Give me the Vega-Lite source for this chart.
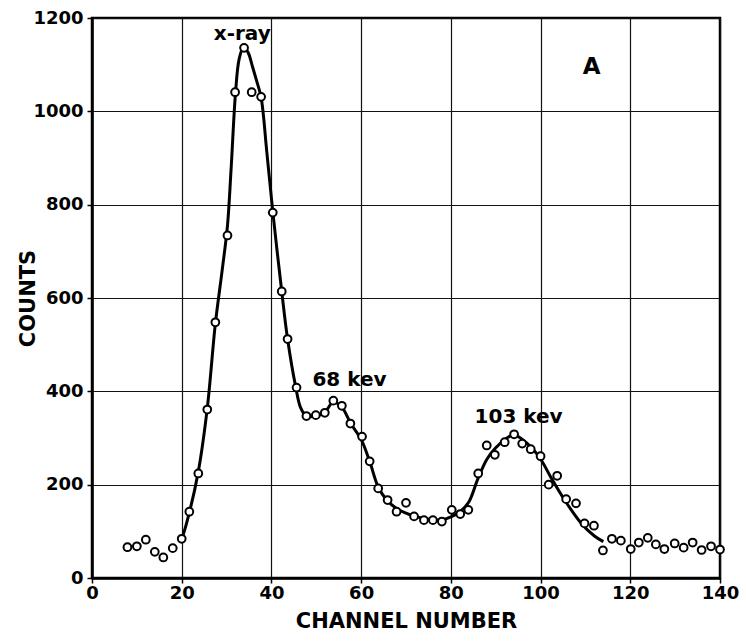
{
  "$schema": "https://vega.github.io/schema/vega-lite/v6.json",
  "width": 628,
  "height": 560,
  "autosize": "none",
  "padding": {"left": 92, "top": 18, "right": 26, "bottom": 65},
  "background": "white",
  "view": {"stroke": "black", "strokeWidth": 2.5},
  "config": {
    "font": "DejaVu Sans",
    "axis": {
      "grid": true,
      "gridColor": "#111111",
      "gridWidth": 1.2,
      "gridOpacity": 1,
      "domainColor": "black",
      "domainWidth": 2.5,
      "tickColor": "black",
      "tickWidth": 1.5,
      "tickSize": 5,
      "labelFont": "DejaVu Sans",
      "labelFontSize": 18,
      "labelFontWeight": "bold",
      "labelColor": "black",
      "titleFont": "DejaVu Sans",
      "titleFontSize": 21,
      "titleFontWeight": "bold",
      "titleColor": "black"
    }
  },
  "datasets": {
    "counts": [
      {"channel": 7.9, "counts": 66}, {"channel": 10, "counts": 68}, {"channel": 12, "counts": 82},
      {"channel": 14, "counts": 56}, {"channel": 15.9, "counts": 44}, {"channel": 18, "counts": 64},
      {"channel": 20, "counts": 84}, {"channel": 21.7, "counts": 142}, {"channel": 23.7, "counts": 224},
      {"channel": 25.7, "counts": 361}, {"channel": 27.5, "counts": 548}, {"channel": 30.2, "counts": 734},
      {"channel": 31.9, "counts": 1041}, {"channel": 33.9, "counts": 1136}, {"channel": 35.6, "counts": 1041},
      {"channel": 37.7, "counts": 1031}, {"channel": 40.3, "counts": 783}, {"channel": 42.3, "counts": 614},
      {"channel": 43.6, "counts": 512}, {"channel": 45.6, "counts": 408}, {"channel": 47.8, "counts": 347},
      {"channel": 49.9, "counts": 349}, {"channel": 51.9, "counts": 354}, {"channel": 53.8, "counts": 380},
      {"channel": 55.7, "counts": 369}, {"channel": 57.6, "counts": 331}, {"channel": 60.2, "counts": 303},
      {"channel": 61.9, "counts": 250}, {"channel": 63.8, "counts": 192}, {"channel": 65.9, "counts": 167},
      {"channel": 67.9, "counts": 142}, {"channel": 70, "counts": 161}, {"channel": 71.8, "counts": 132},
      {"channel": 74, "counts": 124}, {"channel": 76, "counts": 124}, {"channel": 78, "counts": 121},
      {"channel": 80.2, "counts": 146}, {"channel": 82.1, "counts": 137}, {"channel": 83.9, "counts": 146},
      {"channel": 86.1, "counts": 224}, {"channel": 88, "counts": 284}, {"channel": 89.8, "counts": 264},
      {"channel": 92, "counts": 291}, {"channel": 94.1, "counts": 308}, {"channel": 95.9, "counts": 288},
      {"channel": 97.8, "counts": 276}, {"channel": 100, "counts": 261}, {"channel": 101.8, "counts": 200},
      {"channel": 103.7, "counts": 219}, {"channel": 105.7, "counts": 169}, {"channel": 107.9, "counts": 160},
      {"channel": 109.8, "counts": 117}, {"channel": 111.9, "counts": 112}, {"channel": 113.9, "counts": 59},
      {"channel": 115.9, "counts": 84}, {"channel": 117.9, "counts": 80}, {"channel": 120.1, "counts": 62},
      {"channel": 121.9, "counts": 76}, {"channel": 123.9, "counts": 86}, {"channel": 125.7, "counts": 72},
      {"channel": 127.6, "counts": 62}, {"channel": 129.9, "counts": 74}, {"channel": 131.9, "counts": 65},
      {"channel": 133.9, "counts": 76}, {"channel": 135.9, "counts": 60}, {"channel": 138, "counts": 68},
      {"channel": 140, "counts": 61}
    ],
    "fit": [
      {"channel": 19.6, "counts": 78}, {"channel": 20, "counts": 84}, {"channel": 21.7, "counts": 140},
      {"channel": 23.7, "counts": 228}, {"channel": 25.7, "counts": 364}, {"channel": 27.5, "counts": 545},
      {"channel": 29, "counts": 658}, {"channel": 30.2, "counts": 755}, {"channel": 31, "counts": 875},
      {"channel": 32, "counts": 1040}, {"channel": 32.8, "counts": 1112}, {"channel": 33.8, "counts": 1138},
      {"channel": 34.8, "counts": 1126}, {"channel": 35.8, "counts": 1095}, {"channel": 36.8, "counts": 1062},
      {"channel": 37.7, "counts": 1030}, {"channel": 39, "counts": 910}, {"channel": 40.3, "counts": 785},
      {"channel": 42.3, "counts": 614}, {"channel": 43.6, "counts": 512}, {"channel": 45.4, "counts": 410},
      {"channel": 46.5, "counts": 365}, {"channel": 47.8, "counts": 347}, {"channel": 49.9, "counts": 347},
      {"channel": 51.9, "counts": 355}, {"channel": 53.8, "counts": 377}, {"channel": 55.7, "counts": 366},
      {"channel": 57.7, "counts": 331}, {"channel": 60, "counts": 297}, {"channel": 61.9, "counts": 250},
      {"channel": 63.8, "counts": 195}, {"channel": 65.8, "counts": 166}, {"channel": 67.9, "counts": 149},
      {"channel": 70, "counts": 139}, {"channel": 72, "counts": 132}, {"channel": 74.5, "counts": 127},
      {"channel": 77.8, "counts": 124}, {"channel": 80, "counts": 131}, {"channel": 82, "counts": 142},
      {"channel": 84, "counts": 163}, {"channel": 86, "counts": 212}, {"channel": 88, "counts": 254},
      {"channel": 89.9, "counts": 278}, {"channel": 92.1, "counts": 297}, {"channel": 94, "counts": 307},
      {"channel": 95.8, "counts": 298}, {"channel": 98, "counts": 279}, {"channel": 100, "counts": 255},
      {"channel": 102.4, "counts": 214}, {"channel": 105.3, "counts": 168}, {"channel": 109, "counts": 118},
      {"channel": 112, "counts": 90}, {"channel": 114, "counts": 78}
    ],
    "notes": [
      {"channel": 33.5, "counts": 1166, "label": "x-ray"},
      {"channel": 57.4, "counts": 424, "label": "68 kev"},
      {"channel": 95.1, "counts": 346, "label": "103 kev"}
    ],
    "panel": [
      {"channel": 111.4, "counts": 1096, "label": "A"}
    ]
  },
  "encoding": {
    "x": {
      "field": "channel",
      "type": "quantitative",
      "scale": {"domain": [0, 140], "nice": false},
      "axis": {
        "values": [0, 20, 40, 60, 80, 100, 120, 140],
        "title": "CHANNEL NUMBER",
        "format": "d",
        "labelPadding": 1,
        "titlePadding": 8,
        "labelFlush": false
      }
    },
    "y": {
      "field": "counts",
      "type": "quantitative",
      "scale": {"domain": [0, 1200], "nice": false},
      "axis": {
        "values": [0, 200, 400, 600, 800, 1000, 1200],
        "title": "COUNTS",
        "format": "d",
        "labelPadding": 4,
        "titlePadding": -6,
        "labelFlush": false
      }
    }
  },
  "layer": [
    {
      "data": {"name": "fit"},
      "mark": {"type": "line", "color": "black", "strokeWidth": 3, "interpolate": "catmull-rom"}
    },
    {
      "data": {"name": "counts"},
      "mark": {"type": "point", "shape": "circle", "filled": false, "fill": "white", "fillOpacity": 1, "stroke": "black", "strokeWidth": 2, "size": 60, "opacity": 1}
    },
    {
      "data": {"name": "notes"},
      "mark": {"type": "text", "font": "DejaVu Sans", "fontSize": 20, "fontWeight": "bold", "color": "black", "align": "center", "baseline": "middle"},
      "encoding": {"text": {"field": "label"}}
    },
    {
      "data": {"name": "panel"},
      "mark": {"type": "text", "font": "DejaVu Sans", "fontSize": 23, "fontWeight": "bold", "color": "black", "align": "center", "baseline": "middle"},
      "encoding": {"text": {"field": "label"}}
    }
  ]
}
